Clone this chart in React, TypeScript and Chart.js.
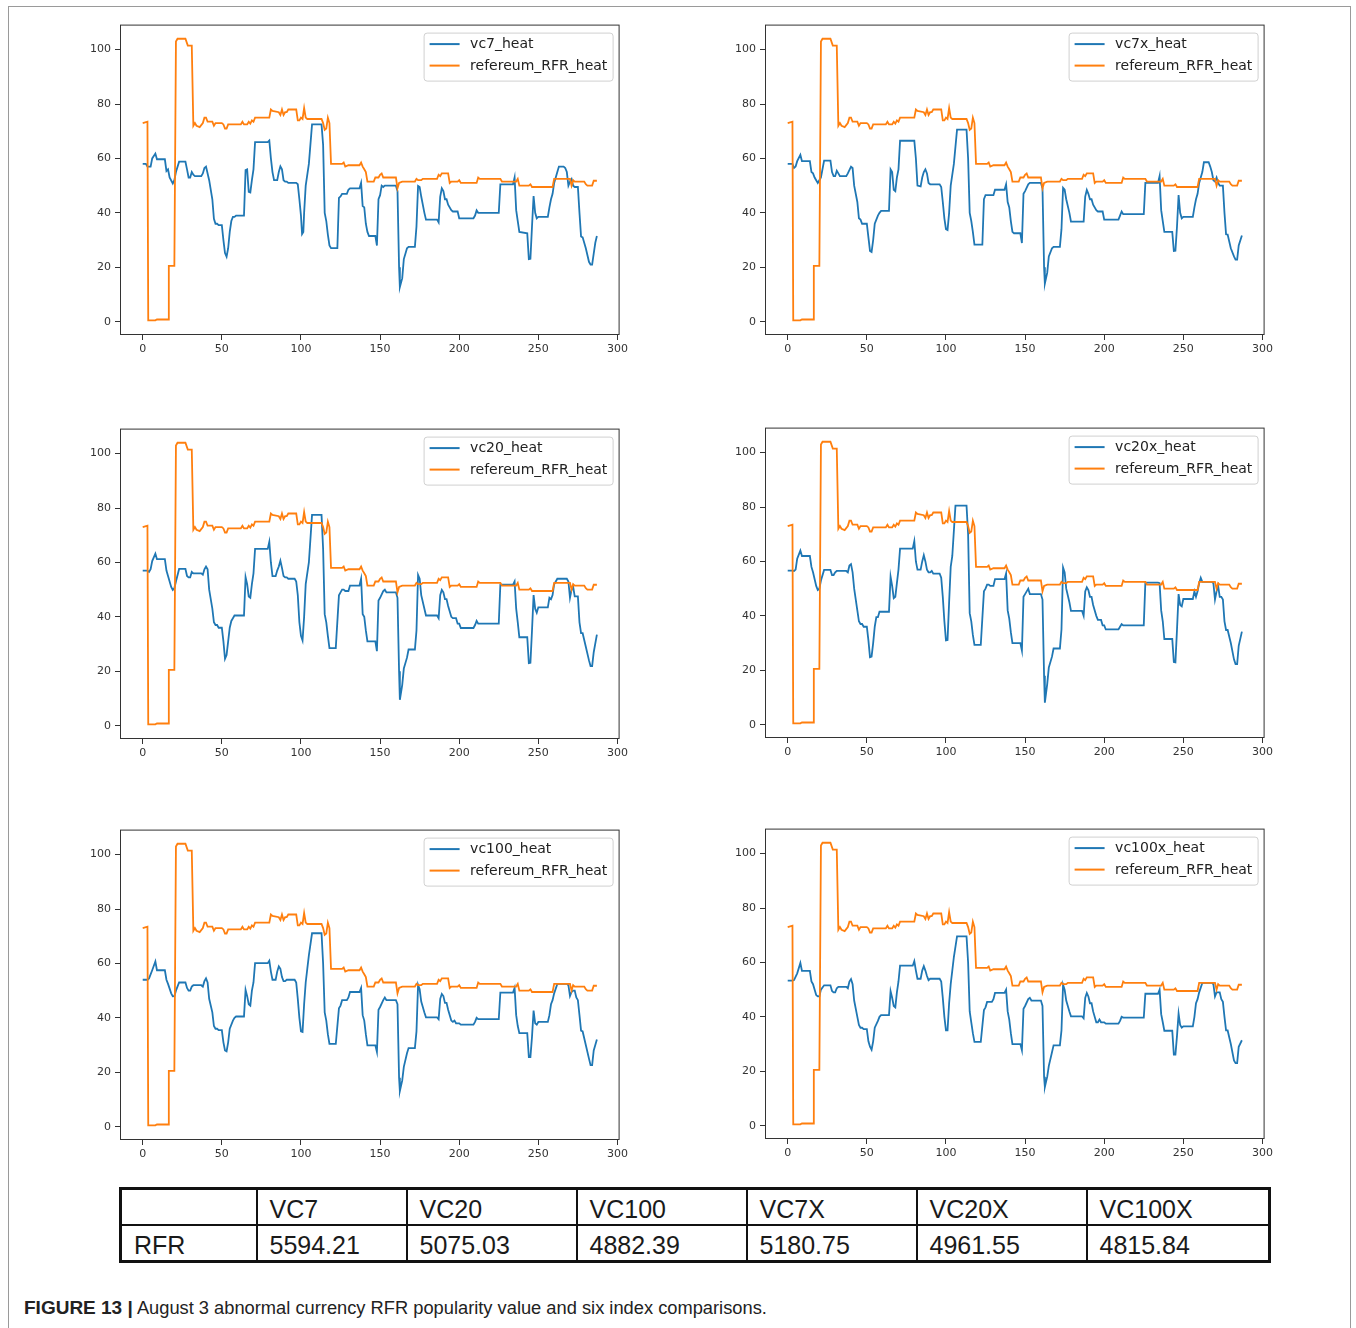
import React, { useEffect, useRef } from "react";
import { Chart, registerables } from "chart.js";

Chart.register(...registerables);

type Pt = [number, number];

// ---------- data ----------
const xTicks = [0, 50, 100, 150, 200, 250, 300];
const yTicks = [0, 20, 40, 60, 80, 100];
const xMin = -14.35;
const xMax = 301.35;
const yMin = -4.9;
const yMax = 109.2;

const refName = "refereum_RFR_heat";

const refereumRFR: Pt[] = [
  [0, 73], [3, 73.5], [3.5, 0.5], [8, 0.5], [9, 0.8], [16, 0.8], [16.5, 20.5], [20, 20.5], [21, 103], [22, 104],
  [27, 104], [28.5, 101.5], [31, 101.5], [32, 72], [33, 73], [34, 72], [36, 71.5], [38, 73], [39, 75], [40, 75],
  [41, 73.5], [44, 73.5], [45, 72], [46, 73], [50, 73], [51, 72.5], [52, 71], [53, 71], [54, 72.5], [62, 72.5],
  [63, 73.5], [64, 72.5], [66, 72.5], [67, 73.5], [68, 72.8], [69, 74], [70, 73.5], [71, 75], [80, 75], [81, 78],
  [82, 77.5], [86, 77], [87, 76], [88, 78], [89, 76], [90, 77], [91, 77], [92, 78], [97, 78], [98, 74],
  [99, 74], [100, 75], [101, 74.5], [102, 78.5], [103, 75], [104, 74.5], [113, 74.5], [114, 73], [115, 70.5], [116, 71],
  [117, 75], [118, 73], [119, 58], [126, 58], [127, 58.5], [128, 57], [130, 57.5], [137, 57.5], [138, 58.5], [139, 57],
  [140, 56], [141, 55], [142, 51.5], [146, 51.5], [147, 53], [149, 53], [150, 54], [151, 54.5], [152, 53], [160, 53],
  [161, 49], [162, 51], [164, 51.5], [172, 51.5], [173, 52.5], [174, 52], [176, 52], [177, 52.5], [186, 52.5], [187, 54],
  [188, 53.5], [189, 54.5], [193, 54.5], [194, 51], [195, 51.5], [199, 51.5], [200, 52], [201, 51], [211, 51], [212, 53],
  [213, 52.5], [226, 52.5], [227, 51.5], [236, 51.5], [237, 52.5], [238, 50], [244, 50], [245, 50.5], [246, 49.5], [259, 49.5],
  [260, 52.5], [270, 52.5], [271, 50], [272, 52], [273, 51.5], [279, 51.5], [280, 50.5], [281, 50], [284, 50], [285, 51.8],
  [287, 51.8],
];

const vc7: Pt[] = [
  [0, 58], [2, 58], [3, 57], [5, 57], [6, 60], [8, 61.8], [9, 59.7], [14, 59.7], [15, 55.4], [16, 56],
  [17, 53], [19, 50.8], [20, 52], [21, 55], [23, 58.8], [27, 58.8], [28, 56], [29, 53], [30, 53], [31, 55],
  [32, 54], [33, 53.5], [37, 53.5], [38, 54.5], [39, 56.5], [40, 57], [42, 52], [44, 45], [45, 37.8], [46, 36],
  [47, 36], [48, 35.5], [50, 35.5], [51, 30], [52, 25.2], [53, 23.9], [54, 27], [55, 33], [56, 37], [57, 38.5],
  [58, 38.5], [59, 39], [64, 39], [65, 55.7], [66, 56], [67, 47.7], [68, 47.5], [69, 52], [70, 56], [71, 66],
  [79, 66], [80, 66.6], [81, 60], [82, 55], [83, 52], [85, 52], [86, 55], [87, 57.1], [88, 56], [89, 52],
  [90, 51.5], [91, 51.5], [92, 51], [97, 51], [98, 50.5], [99, 45], [100, 39], [100.7, 32.2], [101.5, 33], [102, 40],
  [103, 50], [105, 58], [107, 72.5], [113, 72.5], [114, 65], [115, 40], [116, 37], [117, 32], [118, 28], [119, 27],
  [123, 27], [124, 45.5], [125, 46], [126, 47], [129, 47], [130, 48.5], [131, 49], [137, 49], [138, 51], [139, 42.5],
  [140, 42], [141, 36], [142, 33], [143, 31.5], [147, 31.5], [148, 28], [149, 45], [150, 46.5], [151, 50], [152, 49.5],
  [153, 50], [160, 50], [161, 48], [162, 20], [162.5, 12.7], [164, 16], [165, 23], [166, 25], [167, 27], [168, 27.5],
  [172, 27.5], [173, 35], [174, 49.9], [175, 49.5], [176, 46], [178, 40], [179, 37.5], [186, 37.5], [187, 36.5], [188, 46],
  [189, 49], [190, 48], [191, 45], [192, 45], [193, 43], [195, 41], [196, 40.5], [199, 40.5], [200, 38], [209, 38],
  [210, 39], [211, 40.9], [212, 40], [225, 40], [226, 50.5], [234, 50.5], [235, 53], [236, 41], [237, 37], [238, 33],
  [243, 32.5], [244, 23], [245, 23.1], [246, 35], [247, 46.2], [248, 40], [249, 38], [250, 38.5], [256, 38.5], [257, 42],
  [258, 45], [259, 47], [260, 51], [262, 55], [263, 57], [266, 57], [267, 56.5], [268, 55], [269, 50], [270, 51.5],
  [271, 52.4], [272, 50], [273, 49.5], [275, 49.5], [276, 40], [277, 31.3], [278, 31], [280, 27], [282, 22], [283, 21],
  [284, 21], [285, 25], [286, 29], [287, 31.5],
];

const vc7x: Pt[] = [
  [0, 58], [3, 58], [4, 56.5], [5, 57], [6, 59], [8, 61.3], [9, 59], [14, 59], [15, 55], [16, 54.5],
  [17, 53], [19, 51], [20, 52], [21, 53], [23, 59.2], [27, 59.2], [28, 55], [29, 53.5], [30, 53.5], [31, 55.5],
  [32, 54.5], [33, 53.5], [37, 53.5], [38, 54.5], [40, 57], [41, 56.5], [42, 50], [44, 44], [45, 38], [46, 37.5],
  [47, 36], [50, 36], [51, 31], [52, 26], [53, 25.6], [54, 30], [55, 36], [57, 39], [58, 40], [59, 40.7],
  [64, 40.7], [65, 56], [66, 55], [67, 48.5], [68, 48], [69, 53], [70, 56], [71, 66.5], [80, 66.5], [81, 60],
  [82, 50], [84, 49.7], [85, 53], [86, 55], [87, 56], [88, 54.5], [89, 51], [90, 50.5], [96, 50.5], [97, 49.5],
  [98, 44], [99, 38], [100, 34], [101, 33.7], [102, 40], [103, 50], [105, 58], [107, 70.6], [113, 70.6], [114, 60],
  [115, 40], [116, 37], [117, 33], [118, 28.3], [123, 28.3], [124, 45], [125, 46.5], [130, 46.5], [131, 48.5], [137, 48.5],
  [138, 50.5], [139, 44], [140, 42], [141, 37], [142, 33], [143, 32.5], [147, 32.5], [148, 28.9], [149, 47], [150, 48],
  [152, 50.5], [153, 51], [160, 51], [161, 49], [162, 20], [162.5, 14], [164, 18], [165, 24], [167, 27], [168, 27.5],
  [172, 27.5], [173, 34], [174, 49.2], [175, 48.5], [176, 45], [178, 40], [179, 36.8], [187, 36.8], [188, 46], [189, 48.4],
  [190, 47], [191, 45], [192, 45], [193, 43], [195, 41], [196, 40.5], [199, 40.5], [200, 37.5], [209, 37.5], [210, 39],
  [211, 40.5], [212, 39.5], [225, 39.5], [226, 51], [234, 51], [235, 53.5], [236, 41], [237, 37], [238, 33], [243, 33],
  [244, 26], [245, 26.1], [246, 35], [247, 46.5], [248, 40], [249, 38], [250, 38.5], [256, 38.5], [257, 42], [258, 45],
  [259, 47], [260, 51], [262, 55], [263, 58.6], [266, 58.6], [267, 57], [268, 55], [269, 52], [270, 51.5], [271, 53],
  [272, 51], [273, 50], [275, 50], [276, 40], [277, 32.1], [278, 32], [280, 27], [282, 24], [283, 22.8], [284, 22.8],
  [285, 28], [287, 31.7],
];

const vc20: Pt[] = [
  [0, 57], [3, 57], [4, 56.5], [5, 57.5], [6, 60.5], [8, 63.2], [9, 61.2], [14, 61.2], [15, 57], [16, 55],
  [18, 51], [19, 49.9], [20, 50.5], [21, 53], [23, 57.6], [27, 57.6], [28, 55], [29, 54.5], [30, 54.5], [31, 56.5],
  [32, 56], [37, 56], [38, 55.5], [39, 57.5], [40, 58.5], [41, 57.5], [42, 50], [44, 43], [45, 38], [46, 37],
  [47, 37], [48, 36], [50, 36], [51, 31], [52, 24.6], [53, 26], [54, 31], [55, 36], [56, 38.5], [57, 39.5],
  [58, 40.5], [64, 40.5], [65, 54.6], [66, 52], [67, 47.5], [68, 47], [69, 52], [70, 56], [71, 65], [79, 65],
  [80, 67.6], [81, 60], [82, 55], [84, 55], [85, 57], [86, 58.5], [87, 60.6], [88, 58], [89, 55], [90, 54.5],
  [91, 54.5], [92, 54], [96, 54], [97, 53], [98, 48], [99, 38], [100, 33], [101, 31.3], [102, 40], [103, 52],
  [105, 60], [107, 77.5], [113, 77.5], [114, 65], [115, 41], [116, 38], [117, 33], [118, 28.5], [122, 28.5], [124, 47.9],
  [125, 49], [126, 50], [127, 50], [128, 49.5], [130, 49.5], [131, 51.5], [137, 51.5], [138, 54], [139, 41], [140, 40],
  [141, 35], [142, 31], [147, 31], [148, 27.4], [149, 46], [150, 47], [152, 49.5], [153, 50], [154, 49], [160, 49],
  [161, 47], [162, 20], [162.5, 9.5], [164, 15], [165, 21], [167, 25], [168, 28], [172, 28], [173, 35], [174, 55.4],
  [175, 54], [176, 48], [178, 43], [179, 40.5], [186, 40.5], [187, 39.5], [188, 48], [189, 49.9], [190, 49], [191, 46.5],
  [192, 46.5], [193, 44], [195, 40], [196, 39.5], [198, 39.5], [199, 37.5], [200, 37.5], [201, 35.9], [209, 35.9], [210, 37],
  [211, 38.5], [212, 37.5], [225, 37.5], [226, 51.8], [234, 51.8], [235, 53], [236, 43], [237, 38], [238, 32.5], [243, 32.5],
  [244, 23], [245, 23.1], [246, 35], [247, 48], [248, 43], [249, 41.5], [250, 43.5], [256, 43.5], [257, 47], [258, 46.5],
  [259, 48], [260, 52], [262, 54], [268, 54], [269, 53], [270, 47], [271, 50], [272, 51], [273, 47.5], [275, 47.5],
  [276, 38], [277, 34], [278, 34], [280, 29], [282, 24], [283, 21.9], [284, 21.9], [285, 27], [287, 33.5],
];

const vc20x: Pt[] = [
  [0, 56.6], [3, 56.6], [4, 56.5], [5, 57], [6, 61], [8, 64], [9, 62], [14, 62], [15, 58], [16, 56],
  [18, 51], [19, 49.5], [20, 50], [21, 53], [23, 56.9], [27, 56.9], [28, 55], [29, 55], [30, 56], [31, 56.5],
  [37, 56.5], [38, 56], [39, 58.5], [40, 59], [41, 56], [42, 50], [44, 42], [45, 38], [46, 37], [47, 37],
  [48, 36], [50, 36], [51, 31], [52, 24.8], [53, 25], [54, 30], [55, 36], [56, 39.5], [57, 39.5], [58, 41.5],
  [64, 41.5], [65, 54.4], [66, 51], [67, 46.5], [68, 47], [69, 52], [70, 57], [71, 64.7], [79, 64.7], [80, 67.5],
  [81, 60], [82, 57], [84, 57], [85, 60], [86, 62.3], [87, 60], [88, 57], [89, 56], [90, 56], [91, 56.5],
  [92, 55.5], [96, 55.5], [97, 54], [98, 47], [99, 38], [100, 31], [101, 31.1], [102, 45], [103, 58], [104, 62],
  [106, 80.5], [113, 80.5], [114, 70], [115, 41], [116, 38], [117, 33], [118, 29.3], [122, 29.3], [124, 49], [125, 50],
  [126, 51.5], [127, 51.5], [128, 51], [130, 51], [131, 53.5], [137, 53.5], [138, 55.6], [139, 42], [140, 39], [141, 34],
  [142, 30], [147, 30], [148, 27.2], [149, 47], [150, 48], [152, 50], [153, 48], [160, 48], [161, 46], [162, 18],
  [162.5, 8.1], [164, 15], [165, 21], [167, 25], [168, 28], [172, 28], [173, 35], [174, 57.8], [175, 56], [176, 50],
  [178, 45], [179, 41.8], [186, 41.8], [187, 40], [188, 49], [189, 50.5], [190, 49.5], [191, 47], [192, 47], [193, 44],
  [195, 40], [196, 38.5], [198, 38.5], [199, 36.5], [200, 36.5], [201, 35], [209, 35], [210, 36], [211, 37], [212, 36.5],
  [225, 36.5], [226, 52.2], [234, 52.2], [235, 52], [236, 42], [237, 38], [238, 31.5], [243, 31.5], [244, 23], [245, 22.9],
  [246, 35], [247, 48], [248, 44], [249, 43.5], [250, 46.2], [256, 46.2], [257, 49], [258, 47], [259, 49], [260, 52],
  [261, 54], [262, 52.5], [268, 52.5], [269, 52], [270, 46], [271, 49], [272, 51], [273, 47], [274, 47], [275, 46],
  [276, 38], [277, 34.8], [278, 34.8], [280, 30], [282, 24], [283, 22.3], [284, 22.3], [285, 29], [287, 34.2],
];

const vc100: Pt[] = [
  [0, 54], [3, 54], [4, 54.5], [6, 57.5], [8, 60.7], [9, 57.5], [14, 57.5], [15, 54], [16, 52.5], [18, 49],
  [19, 47.9], [20, 48], [21, 50], [23, 53], [27, 53], [28, 51], [29, 50], [30, 50], [31, 51.5], [32, 52],
  [37, 52], [38, 51.5], [39, 53.5], [40, 54.5], [41, 53], [42, 47], [44, 42], [45, 37], [46, 36], [47, 36],
  [48, 35.5], [50, 35.5], [51, 31], [52, 28], [53, 27.7], [54, 31], [55, 36], [57, 39], [58, 40], [59, 40.5],
  [64, 40.5], [65, 50.3], [66, 48], [67, 45], [68, 44.5], [69, 50], [70, 53], [71, 60.1], [79, 60.1], [80, 61],
  [81, 57], [82, 54], [84, 54], [85, 57], [86, 58.9], [87, 58], [88, 55], [89, 53.5], [90, 53.5], [91, 54],
  [96, 54], [97, 53], [98, 47], [99, 40], [100, 35], [101, 34.8], [102, 45], [103, 53], [104, 58], [105, 63],
  [107, 71.1], [113, 71.1], [114, 60], [115, 42], [116, 39], [117, 34], [118, 30.4], [122, 30.4], [124, 43.5], [125, 44.5],
  [126, 46.5], [129, 46.5], [130, 47.5], [131, 49.5], [137, 49.5], [138, 51], [139, 41], [140, 39], [141, 34], [142, 29.9],
  [147, 29.9], [148, 27.5], [149, 43], [150, 44], [152, 46.5], [153, 47.5], [154, 46.5], [160, 46.5], [161, 45], [162, 18],
  [162.5, 13.1], [164, 17], [165, 22], [167, 27], [168, 28.9], [172, 28.9], [173, 35], [174, 52.1], [175, 50.5], [176, 46],
  [178, 42], [179, 40.2], [186, 40.2], [187, 39.5], [188, 47], [189, 48.8], [190, 48], [191, 45.5], [192, 45.5], [193, 43],
  [195, 39], [196, 38.5], [197, 39], [198, 38], [200, 38], [201, 37.5], [209, 37.5], [210, 38.5], [211, 40], [212, 39.5],
  [225, 39.5], [226, 49.3], [234, 49.3], [235, 51], [236, 41], [237, 37], [238, 34.4], [243, 34.4], [244, 25.6], [245, 25.6],
  [246, 33], [247, 42.7], [248, 38], [249, 37.5], [250, 38.5], [256, 38.5], [257, 41], [258, 45], [259, 46.5], [260, 49],
  [262, 52.5], [268, 52.5], [269, 52], [270, 48], [271, 49.5], [272, 50], [273, 50], [274, 47.5], [275, 46.5], [276, 41],
  [277, 35.3], [278, 35], [280, 30], [282, 25], [283, 22.6], [284, 22.6], [285, 28], [287, 32],
];

const vc100x: Pt[] = [
  [0, 53.3], [3, 53.3], [4, 53.5], [6, 56], [8, 59.8], [9, 56.9], [14, 56.9], [15, 53], [16, 52], [18, 48],
  [19, 47.5], [20, 47.5], [21, 50], [23, 51.6], [27, 51.6], [28, 49.5], [29, 49], [30, 49], [31, 50.5], [32, 51],
  [37, 51], [38, 50.5], [39, 53], [40, 53.9], [41, 52], [42, 46], [44, 40], [45, 37], [46, 36], [47, 36],
  [48, 35.5], [50, 35.5], [51, 31], [52, 29], [53, 27.9], [54, 31], [55, 36], [57, 38.5], [58, 40], [59, 40.6],
  [64, 40.6], [65, 49.4], [66, 47], [67, 44], [68, 43.5], [69, 49], [70, 53], [71, 58.8], [79, 58.8], [80, 60.5],
  [81, 57], [82, 54], [84, 54], [85, 57], [86, 58.6], [87, 57], [88, 55], [89, 53.5], [90, 54], [96, 54],
  [97, 53], [98, 47], [99, 40], [100, 35], [101, 35], [102, 45], [103, 52], [104, 57], [105, 62], [107, 69.6],
  [113, 69.6], [114, 60], [115, 42], [116, 38], [117, 34], [118, 30.8], [122, 30.8], [124, 42.5], [125, 43.5], [126, 45.5],
  [129, 45.5], [130, 46.5], [131, 48.8], [137, 48.8], [138, 50], [139, 42], [140, 39], [141, 34], [142, 30], [147, 30],
  [148, 27.7], [149, 43], [150, 44], [152, 46.5], [153, 47], [154, 46], [160, 46], [161, 44], [162, 18], [162.5, 14.2],
  [164, 18], [165, 22], [167, 27], [168, 29.5], [172, 29.5], [173, 35], [174, 51.8], [175, 50], [176, 46], [178, 42],
  [179, 40.2], [186, 40.2], [187, 39.5], [188, 47], [189, 48.8], [190, 47.5], [191, 45], [192, 45], [193, 42], [195, 38],
  [196, 38], [197, 39], [198, 38], [200, 38], [201, 37.5], [209, 37.5], [210, 38.5], [211, 40], [212, 39.7], [225, 39.7],
  [226, 48.5], [234, 48.5], [235, 50], [236, 41], [237, 38], [238, 34.9], [243, 34.9], [244, 26.1], [245, 26.1], [246, 33],
  [247, 41.2], [248, 37], [249, 36], [250, 36.5], [256, 36.5], [257, 40], [258, 45], [259, 46.5], [260, 49], [262, 52.5],
  [268, 52.5], [269, 52], [270, 47.5], [271, 49], [273, 49], [274, 46.5], [275, 45.5], [276, 40], [277, 35], [278, 35],
  [280, 30], [282, 24], [283, 23], [284, 23], [285, 29], [287, 31.4],
];

const tableHeaders = ["VC7", "VC20", "VC100", "VC7X", "VC20X", "VC100X"];
const tableRowLabel = "RFR";
const tableValues = ["5594.21", "5075.03", "4882.39", "5180.75", "4961.55", "4815.84"];

const captionLabel = "FIGURE 13 |";
const captionText = "August 3 abnormal currency RFR popularity value and six index comparisons.";

// ---------- styling / layout ----------
const BLUE = "#1f77b4";
const ORANGE = "#ff7f0e";
const AXIS_COLOR = "#333333";
const AXIS_W = 60;
const AXIS_H = 35;
const PAD_T = 10;
const PAD_R = 10;
const AREA_W = 501;
const AREA_H = 311;

const framePlugin = {
  id: "frame",
  afterDraw(chart: any) {
    const { ctx, chartArea: a } = chart;
    ctx.save();
    ctx.strokeStyle = AXIS_COLOR;
    ctx.lineWidth = 1;
    ctx.strokeRect(a.left + 0.5, a.top + 0.5, a.right - a.left - 1, a.bottom - a.top - 1);
    ctx.restore();
  },
};

const legendBoxPlugin = {
  id: "legendBox",
  afterDraw(chart: any) {
    const { ctx, chartArea: a } = chart;
    const w = 189;
    const h = 48;
    const x = a.right - 8 - w;
    const y = a.top + 8;
    ctx.save();
    ctx.beginPath();
    (ctx as any).roundRect(x + 1.5, y + 0.5, w, h, 3);
    ctx.fillStyle = "rgba(255,255,255,0.85)";
    ctx.fill();
    ctx.strokeStyle = "#d0d0d0";
    ctx.lineWidth = 1;
    ctx.stroke();
    const items = [
      { label: chart.data.datasets[0].label, color: chart.data.datasets[0].borderColor },
      { label: chart.data.datasets[1].label, color: chart.data.datasets[1].borderColor },
    ];
    ctx.font = "14px 'DejaVu Sans'";
    ctx.textBaseline = "middle";
    ctx.textAlign = "left";
    items.forEach((it, i) => {
      const cy = y + 11.5 + i * 21.5;
      ctx.strokeStyle = it.color;
      ctx.lineWidth = 2;
      ctx.beginPath();
      ctx.moveTo(x + 7, cy);
      ctx.lineTo(x + 37, cy);
      ctx.stroke();
      ctx.fillStyle = "#222222";
      ctx.fillText(it.label, x + 47.5, cy + 0.5);
    });
    ctx.restore();
  },
};

const toXY = (pts: Pt[]) => pts.map(([x, y]) => ({ x, y }));

function Panel({ name, series, left, top }: { name: string; series: Pt[]; left: number; top: number }) {
  const ref = useRef<HTMLCanvasElement>(null);
  useEffect(() => {
    const tickFont = { family: "'DejaVu Sans'", size: 11 };
    const gridCfg = {
      display: true,
      drawOnChartArea: false,
      drawTicks: true,
      tickLength: 5,
      color: AXIS_COLOR,
      lineWidth: 1,
    };
    const chart = new Chart(ref.current as HTMLCanvasElement, {
      type: "line",
      data: {
        datasets: [
          {
            label: name,
            data: toXY(series),
            borderColor: BLUE,
            borderWidth: 1.8,
            pointRadius: 0,
            tension: 0,
            fill: false,
            order: 1,
          },
          {
            label: refName,
            data: toXY(refereumRFR),
            borderColor: ORANGE,
            borderWidth: 1.8,
            pointRadius: 0,
            tension: 0,
            fill: false,
            order: 0,
          },
        ],
      },
      options: {
        responsive: false,
        maintainAspectRatio: false,
        animation: false,
        devicePixelRatio: 1,
        events: [],
        layout: { padding: { left: 0, top: PAD_T, right: PAD_R, bottom: 0 } },
        plugins: { legend: { display: false }, tooltip: { enabled: false } },
        scales: {
          x: {
            type: "linear",
            min: xMin,
            max: xMax,
            afterBuildTicks: (s: any) => {
              s.ticks = xTicks.map((v) => ({ value: v }));
            },
            afterFit: (s: any) => {
              s.height = AXIS_H;
            },
            grid: gridCfg,
            border: { display: false },
            ticks: { color: AXIS_COLOR, font: tickFont, padding: 3, maxRotation: 0, autoSkip: false },
          },
          y: {
            type: "linear",
            min: yMin,
            max: yMax,
            afterBuildTicks: (s: any) => {
              s.ticks = yTicks.map((v) => ({ value: v }));
            },
            afterFit: (s: any) => {
              s.width = AXIS_W;
            },
            grid: gridCfg,
            border: { display: false },
            ticks: { color: AXIS_COLOR, font: tickFont, padding: 4, autoSkip: false },
          },
        },
      } as any,
      plugins: [framePlugin, legendBoxPlugin],
    });
    return () => chart.destroy();
  }, [name, series, left, top]);
  const w = AXIS_W + AREA_W + PAD_R;
  const h = PAD_T + AREA_H + AXIS_H;
  return (
    <canvas
      ref={ref}
      width={w}
      height={h}
      style={{ position: "absolute", left: left - AXIS_W, top: top - PAD_T, width: w, height: h }}
    />
  );
}

const panels = [
  { name: "vc7_heat", series: vc7, left: 120, top: 24 },
  { name: "vc7x_heat", series: vc7x, left: 765, top: 24 },
  { name: "vc20_heat", series: vc20, left: 120, top: 428 },
  { name: "vc20x_heat", series: vc20x, left: 765, top: 427 },
  { name: "vc100_heat", series: vc100, left: 120, top: 829 },
  { name: "vc100x_heat", series: vc100x, left: 765, top: 828 },
];

const colWidths = [136, 150, 170, 170, 170, 170, 183];

export default function App() {
  const cell: React.CSSProperties = {
    border: "2px solid #111",
    padding: "5px 0 0 12px",
    lineHeight: "26px",
    verticalAlign: "middle",
    whiteSpace: "nowrap",
    overflow: "hidden",
  };
  return (
    <div
      style={{
        position: "fixed",
        left: 0,
        top: 0,
        width: 1356,
        height: 1328,
        overflow: "hidden",
        background: "#ffffff",
      }}
    >
      <div
        style={{
          position: "absolute",
          left: 8,
          top: 6,
          width: 1343,
          height: 1340,
          border: "1px solid #9a9a9a",
          boxSizing: "border-box",
        }}
      />
      {panels.map((p) => (
        <Panel key={p.name} name={p.name} series={p.series} left={p.left} top={p.top} />
      ))}
      <table
        style={{
          position: "absolute",
          left: 119,
          top: 1187,
          width: 1149,
          height: 73,
          borderCollapse: "collapse",
          tableLayout: "fixed",
          border: "3px solid #111",
          fontFamily: "'Liberation Sans', Arial, sans-serif",
          fontSize: 25,
          color: "#1a1a1a",
        }}
      >
        <colgroup>
          {colWidths.map((w, i) => (
            <col key={i} style={{ width: w }} />
          ))}
        </colgroup>
        <tbody>
          <tr style={{ height: 36 }}>
            <td style={cell}></td>
            {tableHeaders.map((hd) => (
              <td key={hd} style={cell}>
                {hd}
              </td>
            ))}
          </tr>
          <tr style={{ height: 37 }}>
            <td style={cell}>{tableRowLabel}</td>
            {tableValues.map((v, i) => (
              <td key={i} style={cell}>
                {v}
              </td>
            ))}
          </tr>
        </tbody>
      </table>
      <div
        style={{
          position: "absolute",
          left: 24,
          top: 1297,
          fontFamily: "'Liberation Sans', Arial, sans-serif",
          fontSize: 18.3,
          lineHeight: "22px",
          color: "#222",
          whiteSpace: "nowrap",
        }}
      >
        <b style={{ fontSize: 19 }}>{captionLabel}</b> {captionText}
      </div>
    </div>
  );
}
